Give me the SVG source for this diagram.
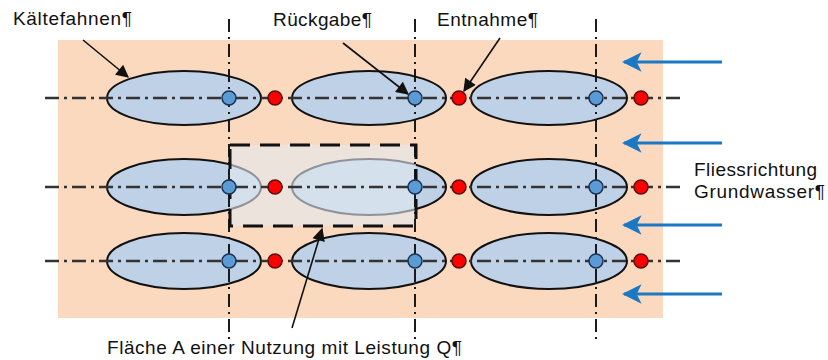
<svg xmlns="http://www.w3.org/2000/svg" width="828" height="360" viewBox="0 0 828 360">
  <defs>
    <style>
      .lbl { font-family: "Liberation Sans", Arial, sans-serif; font-size: 19px; fill: #111; }
      .plume { fill: #BFD1E7; stroke: #111; stroke-width: 2; }
      .axis-h { stroke: #333; stroke-width: 2.4; stroke-dasharray: 14 5 3 5; fill: none; }
      .axis-v { stroke: #111; stroke-width: 1.9; stroke-dasharray: 13 5 2 5; fill: none; }
      .ret { fill: #5B9BD5; stroke: #1F3050; stroke-width: 1.5; }
      .ext { fill: #FF0000; stroke: #5a1010; stroke-width: 1.5; }
      .flow { stroke: #1B78C4; stroke-width: 3; fill: none; marker-end: url(#flowHead); }
      .pointer { stroke: #111; stroke-width: 1.6; fill: none; marker-end: url(#ptrHead); }
    </style>
    <marker id="flowHead" viewBox="0 0 10 10" refX="9" refY="5" markerWidth="6.5" markerHeight="6.5" markerUnits="strokeWidth" orient="auto">
      <path d="M0,0 L10,5 L0,10 L2.5,5 Z" fill="#1B78C4"/>
    </marker>
    <marker id="ptrHead" viewBox="0 0 10 10" refX="9" refY="5" markerWidth="10" markerHeight="8" markerUnits="strokeWidth" orient="auto">
      <path d="M0,0 L10,5 L0,10 Z" fill="#111"/>
    </marker>
  </defs>

  <!-- aquifer area -->
  <rect x="58" y="40" width="605" height="278" fill="#FBD9BE"/>

  <!-- cold plumes -->
  <g id="plumes">
    <g id="plume-r1-c1"><ellipse class="plume" cx="184" cy="98" rx="77" ry="27"/></g>
    <g id="plume-r1-c2"><ellipse class="plume" cx="369" cy="98" rx="77" ry="27"/></g>
    <g id="plume-r1-c3"><ellipse class="plume" cx="549" cy="98" rx="78" ry="27"/></g>
    <g id="plume-r2-c1"><ellipse class="plume" cx="184" cy="187" rx="77" ry="28"/></g>
    <g id="plume-r2-c2"><ellipse class="plume" cx="369" cy="187" rx="77" ry="28"/></g>
    <g id="plume-r2-c3"><ellipse class="plume" cx="549" cy="187" rx="78" ry="28"/></g>
    <g id="plume-r3-c1"><ellipse class="plume" cx="184" cy="261" rx="77" ry="28"/></g>
    <g id="plume-r3-c2"><ellipse class="plume" cx="369" cy="261" rx="77" ry="28"/></g>
    <g id="plume-r3-c3"><ellipse class="plume" cx="549" cy="261" rx="78" ry="28"/></g>
  </g>

  <!-- area A of one installation -->
  <g id="area-A">
    <rect x="230" y="145" width="186" height="81" fill="#E4EAF2" fill-opacity="0.6"/>
  </g>

  <!-- connectors: well axes, flow arrows, label pointers -->
  <g id="connectors">
    <line class="axis-h" x1="45" y1="98" x2="684" y2="98"/>
    <line class="axis-h" x1="45" y1="187" x2="684" y2="187"/>
    <line class="axis-h" x1="45" y1="261" x2="684" y2="261"/>
    <line class="axis-v" x1="229" y1="19" x2="229" y2="341"/>
    <line class="axis-v" x1="415" y1="19" x2="415" y2="341"/>
    <line class="axis-v" x1="596" y1="19" x2="596" y2="341"/>

    <rect x="230" y="145" width="186" height="81" fill="none" stroke="#111" stroke-width="3" stroke-dasharray="20 10"/>

    <line class="flow" x1="722" y1="62" x2="624" y2="62"/>
    <line class="flow" x1="722" y1="143" x2="624" y2="143"/>
    <line class="flow" x1="722" y1="225" x2="624" y2="225"/>
    <line class="flow" x1="722" y1="294" x2="624" y2="294"/>

    <line class="pointer" x1="83" y1="40" x2="128" y2="77"/>
    <line class="pointer" x1="343" y1="43" x2="408" y2="94"/>
    <line class="pointer" x1="500" y1="38" x2="464" y2="91"/>
    <line class="pointer" x1="292" y1="328" x2="322" y2="229"/>
  </g>

  <!-- return wells -->
  <g id="returns">
    <circle class="ret" cx="229" cy="98" r="7"/>
    <circle class="ret" cx="415" cy="98" r="7"/>
    <circle class="ret" cx="596" cy="98" r="7"/>
    <circle class="ret" cx="229" cy="187" r="7"/>
    <circle class="ret" cx="415" cy="187" r="7"/>
    <circle class="ret" cx="596" cy="187" r="7"/>
    <circle class="ret" cx="229" cy="261" r="7"/>
    <circle class="ret" cx="415" cy="261" r="7"/>
    <circle class="ret" cx="596" cy="261" r="7"/>
  </g>

  <!-- extraction wells -->
  <g id="extractions">
    <circle class="ext" cx="275" cy="98" r="7"/>
    <circle class="ext" cx="459" cy="98" r="7"/>
    <circle class="ext" cx="641" cy="98" r="7"/>
    <circle class="ext" cx="275" cy="187" r="7"/>
    <circle class="ext" cx="459" cy="187" r="7"/>
    <circle class="ext" cx="641" cy="187" r="7"/>
    <circle class="ext" cx="275" cy="261" r="7"/>
    <circle class="ext" cx="459" cy="261" r="7"/>
    <circle class="ext" cx="641" cy="261" r="7"/>
  </g>

  <!-- labels -->
  <g id="labels">
    <text class="lbl" x="13" y="25" textLength="119" lengthAdjust="spacing">Kältefahnen¶</text>
    <text class="lbl" x="273" y="26" textLength="99" lengthAdjust="spacing">Rückgabe¶</text>
    <text class="lbl" x="437" y="26" textLength="101" lengthAdjust="spacing">Entnahme¶</text>
    <text class="lbl" x="694" y="176" textLength="123" lengthAdjust="spacing">Fliessrichtung</text>
    <text class="lbl" x="694" y="198" textLength="131" lengthAdjust="spacing">Grundwasser¶</text>
    <text class="lbl" x="107" y="354" textLength="355" lengthAdjust="spacing">Fläche A einer Nutzung mit Leistung Q¶</text>
  </g>
</svg>
